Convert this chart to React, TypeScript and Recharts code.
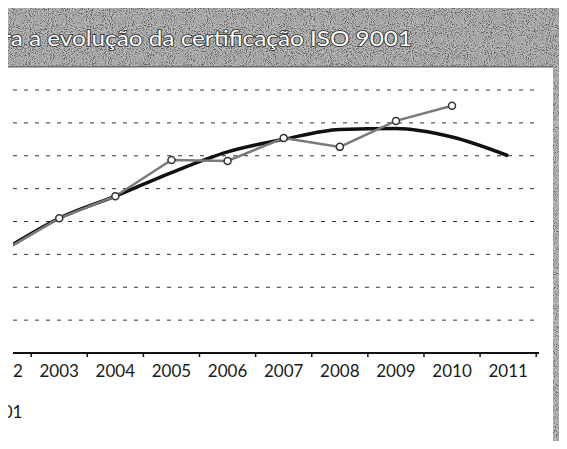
import { LineChart, Line, XAxis, YAxis, CartesianGrid } from 'recharts'

// anos e valores (unidades de grelha)
const anos = [2002, 2003, 2004, 2005, 2006, 2007, 2008, 2009, 2010, 2011]
const certificados = [3.1, 4.1, 4.77, 5.87, 5.84, 6.54, 6.27, 7.06, 7.52, null]
const tendencia = [3.12, 4.1, 4.77, 5.49, 6.12, 6.5, 6.8, 6.83, 6.57, 6.0]
const linhasGrelha = [0, 1, 2, 3, 4, 5, 6, 7, 8]
const marcasX = [2002, 2002.5, 2003, 2003.5, 2004, 2004.5, 2005, 2005.5, 2006, 2006.5, 2007, 2007.5, 2008, 2008.5, 2009, 2009.5, 2010, 2010.5, 2011, 2011.5]

const dados = anos.map((ano, i) => ({ ano, cert: certificados[i], tend: tendencia[i] }))

const fonte = 'Lato, "DejaVu Sans", sans-serif'

const MarcaAno = (props: any) => {
  const { x, y, payload } = props
  if (Number.isInteger(payload.value)) {
    return (
      <text x={x} y={y + 24} textAnchor='middle' fontSize={17} fontFamily={fonte} fill='#1a1a1a'>
        {payload.value}
      </text>
    )
  }
  return <line x1={x} x2={x} y1={y} y2={y + 4} stroke='#111' strokeWidth={1.5} />
}

const App = () => (
  <div style={{ position: 'relative', margin: '-8px', width: 567, height: 449, overflow: 'hidden', background: '#fff' }}>
    <svg width={567} height={449} style={{ position: 'absolute', left: 0, top: 0 }}>
      <defs>
        <filter id='grao' x='0' y='0' width='100%' height='100%'>
          <feTurbulence type='fractalNoise' baseFrequency='0.95' numOctaves={2} seed={4} />
          <feColorMatrix type='matrix' values='1 0 0 0 0  1 0 0 0 0  1 0 0 0 0  0 0 0 0 1' />
          <feComponentTransfer>
            <feFuncR type='linear' slope={3} intercept={-1} />
            <feFuncG type='linear' slope={3} intercept={-1} />
            <feFuncB type='linear' slope={3} intercept={-1} />
          </feComponentTransfer>
        </filter>
      </defs>
      <rect x={0} y={7} width={567} height={60} fill='#9c9c9c' />
      <rect x={0} y={7} width={567} height={60} filter='url(#grao)' opacity={0.35} />
      <rect x={553} y={67} width={14} height={382} fill='#a4a4a4' />
      <rect x={553} y={67} width={14} height={382} filter='url(#grao)' opacity={0.35} />
      <rect x={0} y={66} width={553} height={1.5} fill='#6a6a6a' />
      <rect x={0} y={0} width={516} height={7} fill='#151515' />
      <text
        x={2}
        y={46}
        fontSize={21}
        fontFamily={fonte}
        fill='#fff'
        stroke='#2a2a2a'
        strokeWidth={1.6}
        paintOrder='stroke'
        textLength={410}
        lengthAdjust='spacingAndGlyphs'
      >
        ra a evolução da certificação ISO 9001
      </text>
      <text x={-17} y={418} fontSize={17} fontFamily={fonte} fill='#1a1a1a'>9001</text>
    </svg>
    <div style={{ position: 'absolute', left: 13, top: 0, width: 554, height: 449, overflow: 'hidden' }}>
      <div style={{ position: 'relative', left: -13 }}>
        <LineChart width={567} height={449} data={dados} margin={{ top: 90, right: 28, left: 13, bottom: 66 }}>
          <CartesianGrid vertical={false} stroke='#333' strokeDasharray='4 7' />
          <YAxis hide domain={[0, 8]} ticks={linhasGrelha} />
          <XAxis
            type='number'
            dataKey='ano'
            domain={[2002.176, 2011.55]}
            allowDataOverflow
            ticks={marcasX}
            interval={0}
            tick={<MarcaAno />}
            tickLine={false}
            tickSize={0}
            tickMargin={0}
            height={30}
            axisLine={{ stroke: '#111', strokeWidth: 2 }}
          />
          <Line type='monotone' dataKey='tend' stroke='#111' strokeWidth={3.5} dot={false} isAnimationActive={false} />
          <Line
            type='linear'
            dataKey='cert'
            stroke='#7a7a7a'
            strokeWidth={2.5}
            dot={{ r: 3.5, fill: '#fff', stroke: '#333', strokeWidth: 1.5 }}
            isAnimationActive={false}
          />
        </LineChart>
      </div>
    </div>
  </div>
)

export default App
